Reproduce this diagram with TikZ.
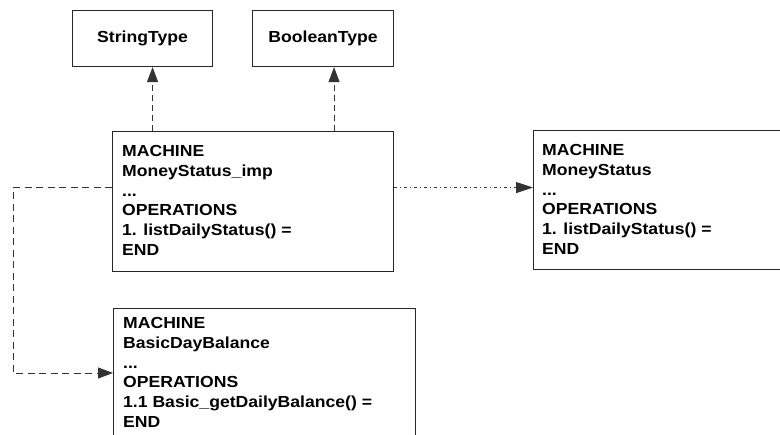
\documentclass[tikz,border=0pt]{standalone}
\usepackage{fontspec}
\setmainfont{Liberation Sans}[FakeStretch=1.1]
\usetikzlibrary{arrows.meta,calc}

\tikzset{
  frame/.style={draw=black!85, line width=1.1pt, fill=white, inner sep=0pt, anchor=north west},
  boxtext/.style={inner sep=0pt, anchor=north west, align=left,
    font=\fontsize{16}{19.7}\selectfont\bfseries},
  typetext/.style={inner sep=0pt, font=\fontsize{16}{19.7}\selectfont\bfseries},
  tip/.style={-{Triangle[length=15pt,width=11pt]}},
  usesdep/.style={tip, draw=black!80, line width=0.9pt, dash pattern=on 6pt off 4pt},
  seesdep/.style={tip, draw=black!80, line width=0.9pt, dash pattern=on 7pt off 4.5pt},
  refdep/.style={-{Triangle[length=17pt,width=11pt]}, draw=black!80, line width=0.9pt,
    dash pattern=on 3pt off 3pt on 1pt off 3pt},
}

\begin{document}
\begin{tikzpicture}[x=1pt, y=-1pt]
  \useasboundingbox (0,0) rectangle (780,435);
  \clip (0,0) rectangle (780,435);
  \fill[white] (0,0) rectangle (780,435);

  % base type machines
  \node[frame, minimum width=140pt, minimum height=56pt] (st) at (72,10) {};
  \node[typetext] (stlabel) at (st.center) {StringType};
  \node[frame, minimum width=141pt, minimum height=56pt] (bt) at (252,10) {};
  \node[typetext] (btlabel) at (bt.center) {BooleanType};

  % implementation machine
  \node[frame, minimum width=281pt, minimum height=140pt] (imp) at (112,131) {};
  \node[boxtext] (imptext) at (122,145.5)
    {MACHINE\\MoneyStatus\_imp\\...\\OPERATIONS\\1. listDailyStatus() =\\END};

  % abstract machine
  \node[frame, minimum width=260pt, minimum height=139pt] (ms) at (533,130) {};
  \node[boxtext] (mstext) at (542,144.5)
    {MACHINE\\MoneyStatus\\...\\OPERATIONS\\1. listDailyStatus() =\\END};

  % imported basic machine
  \node[frame, minimum width=302pt, minimum height=140pt] (bal) at (113,308) {};
  \node[boxtext] (baltext) at (123,317.5)
    {MACHINE\\BasicDayBalance\\...\\OPERATIONS\\1.1 Basic\_getDailyBalance() =\\END};

  % sees links to the type machines
  \draw[usesdep] ([xshift=10pt]st.south |- imp.north) -- ([xshift=10pt]st.south);
  \draw[usesdep] ([xshift=11pt]bt.south |- imp.north) -- ([xshift=11pt]bt.south);

  % refinement link
  \draw[refdep] ([yshift=14pt]imp.east) -- ([yshift=14pt]imp.east -| ms.west);

  % import link
  \coordinate (corner) at (13,373);
  \draw[seesdep] ([yshift=14pt]imp.west) -| (corner) -- (corner -| bal.west);
\end{tikzpicture}
\end{document}
